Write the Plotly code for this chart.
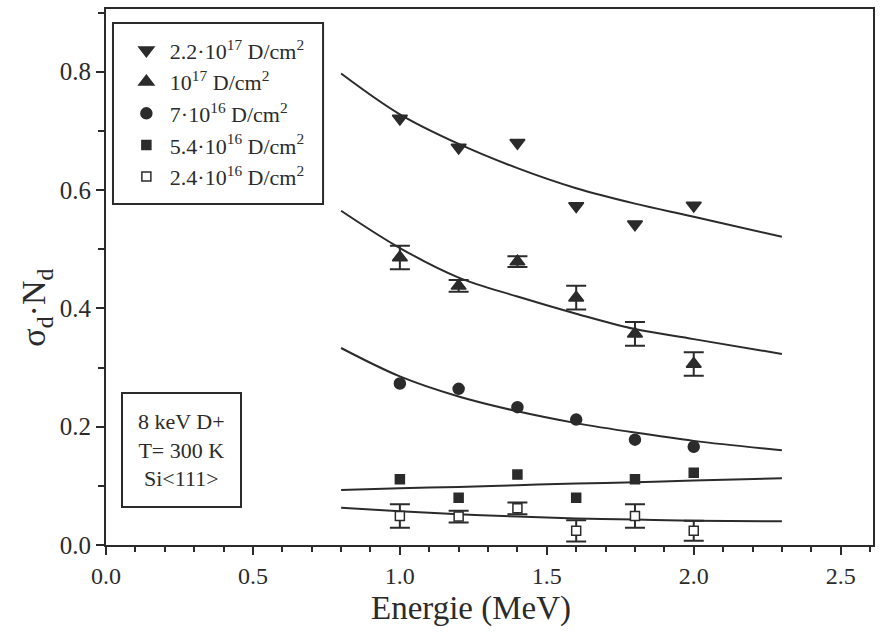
import plotly.graph_objects as go

# Beam energies (MeV) for the measured points
energy = [1.0, 1.2, 1.4, 1.6, 1.8, 2.0]

# sigma_d * N_d for each deuterium fluence
dose_22e17 = [0.721, 0.672, 0.680, 0.573, 0.542, 0.574]
dose_1e17 = [0.486, 0.438, 0.479, 0.418, 0.357, 0.306]
dose_1e17_err = [0.020, 0.010, 0.009, 0.020, 0.020, 0.020]
dose_7e16 = [0.273, 0.264, 0.233, 0.212, 0.178, 0.166]
dose_54e16 = [0.111, 0.080, 0.119, 0.080, 0.111, 0.122]
dose_24e16 = [0.049, 0.048, 0.062, 0.024, 0.049, 0.024]
dose_24e16_err = [0.020, 0.010, 0.010, 0.018, 0.020, 0.017]

# Fitted curves
fit_energy = [0.8, 1.0, 1.2, 1.4, 1.6, 1.8, 2.0, 2.3]
fit_22e17 = [0.797, 0.728, 0.678, 0.637, 0.603, 0.577, 0.555, 0.521]
fit_1e17 = [0.565, 0.502, 0.452, 0.420, 0.391, 0.365, 0.348, 0.323]
fit_7e16 = [0.333, 0.285, 0.251, 0.226, 0.206, 0.190, 0.176, 0.160]
fit_54e16 = [0.093, 0.096, 0.098, 0.101, 0.104, 0.106, 0.109, 0.113]
fit_24e16 = [0.063, 0.057, 0.052, 0.048, 0.045, 0.043, 0.041, 0.040]

labels = [
    "2.2·10<sup>17</sup> D/cm<sup>2</sup>",
    "10<sup>17</sup> D/cm<sup>2</sup>",
    "7·10<sup>16</sup> D/cm<sup>2</sup>",
    "5.4·10<sup>16</sup> D/cm<sup>2</sup>",
    "2.4·10<sup>16</sup> D/cm<sup>2</sup>",
]

ink = "#2b2b2b"
serif = "Liberation Serif"

fig = go.Figure()

for fy in [fit_22e17, fit_1e17, fit_7e16, fit_54e16, fit_24e16]:
    fig.add_trace(go.Scatter(
        x=fit_energy, y=fy, mode="lines", line=dict(color=ink, width=2, shape="spline"),
        showlegend=False, hoverinfo="skip"))

# values, error bars, symbol, size, fill colour
series = [
    (dose_22e17, None, "triangle-down", 13, ink),
    (dose_1e17, dose_1e17_err, "triangle-up", 13, ink),
    (dose_7e16, None, "circle", 11, ink),
    (dose_54e16, None, "square", 9, ink),
    (dose_24e16, dose_24e16_err, "square", 9, "white"),
]

for (vals, err, sym, size, fill), name in zip(series, labels):
    ey = None
    if err is not None:
        ey = dict(type="data", array=err, visible=True, color=ink, thickness=2, width=10)
    fig.add_trace(go.Scatter(
        x=energy, y=vals, mode="markers", name=name, error_y=ey,
        marker=dict(symbol=sym, size=size, color=fill, line=dict(color=ink, width=1.5))))

# frame around the legend
fig.add_shape(type="rect", xref="paper", yref="paper", x0=0.0091, x1=0.283,
              y0=0.636, y1=0.974, line=dict(color=ink, width=2))

# run conditions box
fig.add_annotation(
    xref="paper", yref="paper", x=0.0195, y=0.069, xanchor="left", yanchor="bottom",
    text="8 keV D+<br>T= 300 K<br>Si&lt;111&gt;", showarrow=False, align="center",
    font=dict(family=serif, size=22, color=ink), bordercolor=ink, borderwidth=2,
    borderpad=15, bgcolor="white")

# axis titles
fig.add_annotation(
    xref="paper", yref="paper", x=0.476, y=-0.119, xanchor="center", yanchor="middle",
    text="Energie (MeV)", showarrow=False, font=dict(family=serif, size=33, color=ink))
fig.add_annotation(
    xref="paper", yref="paper", x=-0.0905, y=0.442, xanchor="center", yanchor="middle",
    text="σ<sub>d</sub>·N<sub>d</sub>", textangle=-90, showarrow=False,
    font=dict(family=serif, size=34, color=ink))

fig.update_layout(
    width=895, height=632,
    margin=dict(l=106, r=22, t=7, b=87),
    plot_bgcolor="white", paper_bgcolor="white",
    font=dict(family=serif, color=ink),
    legend=dict(
        x=0.022, y=0.962, xanchor="left", yanchor="top",
        borderwidth=0, bgcolor="rgba(0,0,0,0)",
        font=dict(family=serif, size=22, color=ink),
        itemwidth=37, tracegroupgap=2,
    ),
    xaxis=dict(
        range=[0, 2.61], dtick=0.5, tickformat=".1f", ticks="outside", ticklen=8,
        tickwidth=2, tickcolor=ink, showline=True, linecolor=ink, linewidth=2,
        mirror=True, showgrid=False, zeroline=False,
        tickfont=dict(family=serif, size=24, color=ink),
        minor=dict(dtick=0.1, ticks="outside", ticklen=5, tickwidth=1.5, tickcolor=ink),
    ),
    yaxis=dict(
        range=[0, 0.906], dtick=0.2, tickformat=".1f", ticks="outside", ticklen=8,
        tickwidth=2, tickcolor=ink, showline=True, linecolor=ink, linewidth=2,
        mirror=True, showgrid=False, zeroline=False,
        tickfont=dict(family=serif, size=25, color=ink),
        minor=dict(dtick=0.1, ticks="outside", ticklen=6, tickwidth=1.5, tickcolor=ink),
    ),
)

fig.write_html("out.html")
